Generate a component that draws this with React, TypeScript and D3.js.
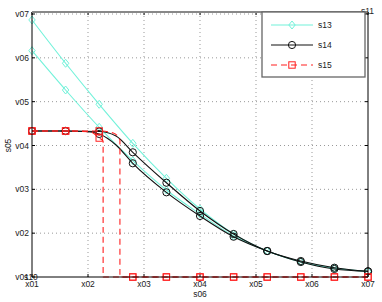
import React from "react";
import * as d3 from "d3";

const W = 382;
const H = 302;

const xTickLabels = ["x01", "x02", "x03", "x04", "x05", "x06", "x07"];
const yTickLabels = ["v01", "v02", "v03", "v04", "v05", "v06", "v07"];

const markerX = [0, 0.6, 1.2, 1.8, 2.4, 3, 3.6, 4.2, 4.8, 5.4, 6];

// s13 (cyan, diamonds) two curves
const s13aX = markerX;
const s13aY = [5.864, 4.876, 3.94, 3.05, 2.252, 1.551, 0.981, 0.593, 0.354, 0.205, 0.125];
const s13bX = markerX;
const s13bY = [5.163, 4.266, 3.415, 2.653, 1.985, 1.437, 0.935, 0.593, 0.342, 0.194, 0.125];

// s14 (black, circles) two curves
const s14aX = [0, 0.6, 1.2, 1.5, 1.8, 2.4, 3, 3.6, 4.2, 4.8, 5.4, 6];
const s14aY = [3.331, 3.331, 3.32, 3.217, 2.845, 2.151, 1.506, 0.981, 0.593, 0.365, 0.212, 0.13];
const s14bX = [0, 0.6, 0.95, 1.2, 1.5, 1.8, 2.4, 3, 3.6, 4.2, 4.8, 5.4, 6];
const s14bY = [3.331, 3.331, 3.32, 3.263, 3.012, 2.594, 1.932, 1.392, 0.919, 0.593, 0.342, 0.183, 0.13];

// s15 (red dashed, squares) two curves
const s15aX = [0, 0.6, 1.2, 1.45, 1.57, 1.5701, 1.8, 2.4, 3, 3.6, 4.2, 4.8, 5.4, 6];
const s15aY = [3.331, 3.331, 3.331, 3.285, 3.126, 0, 0, 0, 0, 0, 0, 0, 0, 0];
const s15bX = [0, 0.6, 1.05, 1.2, 1.27, 1.2701, 1.8, 2.4, 3, 3.6, 4.2, 4.8, 5.4, 6];
const s15bY = [3.331, 3.331, 3.31, 3.17, 3.1, 0, 0, 0, 0, 0, 0, 0, 0, 0];

const legendLabels = ["s13", "s14", "s15"];
const xLabel = "s06";
const yLabel = "s05";
const cornerBL = "s10";
const cornerTR = "s11";

const CYAN = "#72f2da";
const BLACK = "#111";
const RED = "#ff2020";

const left = 32, right = 368, top = 12, bottom = 277;

const x = d3.scaleLinear().domain([0, 6]).range([left, right]);
const y = d3.scaleLinear().domain([0, 6]).range([bottom, 14]);

const FONT = "Liberation Sans, Arial, sans-serif";

type Curve = { xs: number[]; ys: number[] };

function pts(c: Curve): [number, number][] {
  return c.xs.map((v, i) => [v, c.ys[i]]);
}
function isMarker(v: number) {
  return markerX.some((m) => Math.abs(m - v) < 1e-6);
}

const line = d3
  .line<[number, number]>()
  .x((d) => x(d[0]))
  .y((d) => y(d[1]))
  .curve(d3.curveMonotoneX);

function Diamond({ cx, cy, color }: { cx: number; cy: number; color: string }) {
  const r = 4;
  return (
    <path
      d={`M${cx},${cy - r}L${cx + r * 0.8},${cy}L${cx},${cy + r}L${cx - r * 0.8},${cy}Z`}
      fill="none"
      stroke={color}
      strokeWidth={1}
    />
  );
}
function Circle({ cx, cy, color }: { cx: number; cy: number; color: string }) {
  return <circle cx={cx} cy={cy} r={3.6} fill="none" stroke={color} strokeWidth={1} />;
}
function Square({ cx, cy, color }: { cx: number; cy: number; color: string }) {
  const s = 3.2;
  return <rect x={cx - s} y={cy - s} width={2 * s} height={2 * s} fill="none" stroke={color} strokeWidth={1} />;
}

export default function App() {
  const series = [
    { curves: [{ xs: s13aX, ys: s13aY }, { xs: s13bX, ys: s13bY }], color: CYAN, dash: undefined as string | undefined, M: Diamond },
    { curves: [{ xs: s14aX, ys: s14aY }, { xs: s14bX, ys: s14bY }], color: BLACK, dash: undefined, M: Circle },
    { curves: [{ xs: s15aX, ys: s15aY }, { xs: s15bX, ys: s15bY }], color: RED, dash: "6,4", M: Square },
  ];
  const ticks = d3.range(0, 7);
  return (
    <svg
      width={W}
      height={H}
      style={{ position: "absolute", left: 0, top: 0, background: "#fff" }}
      fontFamily={FONT}
    >
      <rect x={0} y={0} width={W} height={H} fill="#fff" />
      {/* grid */}
      {ticks.map((t) => (
        <g key={"g" + t}>
          {t > 0 && t < 6 && (
            <line x1={x(t)} x2={x(t)} y1={top} y2={bottom} stroke="#999" strokeDasharray="1,3" />
          )}
          {t > 0 && (
            <line x1={left} x2={right} y1={y(t)} y2={y(t)} stroke="#999" strokeDasharray="1,3" />
          )}
        </g>
      ))}
      {/* ticks */}
      {ticks.map((t) => (
        <g key={"t" + t} stroke="#000" strokeWidth={1}>
          <line x1={x(t)} x2={x(t)} y1={bottom} y2={bottom - 3} />
          <line x1={x(t)} x2={x(t)} y1={top} y2={top + 3} />
          <line x1={left} x2={left + 3} y1={y(t)} y2={y(t)} />
          <line x1={right} x2={right - 3} y1={y(t)} y2={y(t)} />
        </g>
      ))}
      {/* data */}
      {series.map((s, si) => (
        <g key={"s" + si}>
          {s.curves.map((c, ci) => (
            <path
              key={ci}
              d={line(pts(c)) || ""}
              fill="none"
              stroke={s.color}
              strokeWidth={1.1}
              strokeDasharray={s.dash}
            />
          ))}
          {s.curves.map((c, ci) =>
            pts(c)
              .filter((p) => isMarker(p[0]))
              .map((p, k) => <s.M key={ci + "-" + k} cx={x(p[0])} cy={y(p[1])} color={s.color} />)
          )}
        </g>
      ))}
      {/* axes box */}
      <line x1={left} x2={left} y1={top} y2={bottom} stroke="#000" />
      <line x1={left} x2={right} y1={bottom} y2={bottom} stroke="#000" />
      <line x1={right} x2={right} y1={top} y2={bottom} stroke="#000" />
      <line x1={left} x2={right} y1={top} y2={top} stroke="#888" strokeWidth={2} />
      {/* tick labels */}
      {ticks.map((t) => (
        <text key={"xl" + t} x={x(t)} y={287} fontSize={8.5} textAnchor="middle" fill="#222">
          {xTickLabels[t]}
        </text>
      ))}
      {ticks.map((t) => (
        <text key={"yl" + t} x={29} y={y(t) + 3} fontSize={8.5} textAnchor="end" fill="#222">
          {yTickLabels[t]}
        </text>
      ))}
      <text x={24} y={280} fontSize={8.5} fill="#222">{cornerBL}</text>
      <text x={361} y={14} fontSize={8.5} fill="#222">{cornerTR}</text>
      <text x={x(3)} y={297} fontSize={8.5} textAnchor="middle" fill="#222">{xLabel}</text>
      <text transform={`translate(11,${y(3)}) rotate(-90)`} fontSize={8.5} textAnchor="middle" fill="#222">
        {yLabel}
      </text>
      {/* legend */}
      <g>
        <rect x={262} y={12} width={103} height={65} fill="#fff" stroke="#666" strokeWidth={1.3} />
        {series.map((s, i) => {
          const ly = 25 + i * 20;
          return (
            <g key={"lg" + i}>
              <line x1={271} x2={313} y1={ly} y2={ly} stroke={s.color} strokeWidth={1.1} strokeDasharray={s.dash} />
              <s.M cx={292} cy={ly} color={s.color} />
              <text x={318} y={ly + 3} fontSize={8.5} fill="#222">{legendLabels[i]}</text>
            </g>
          );
        })}
      </g>
    </svg>
  );
}
